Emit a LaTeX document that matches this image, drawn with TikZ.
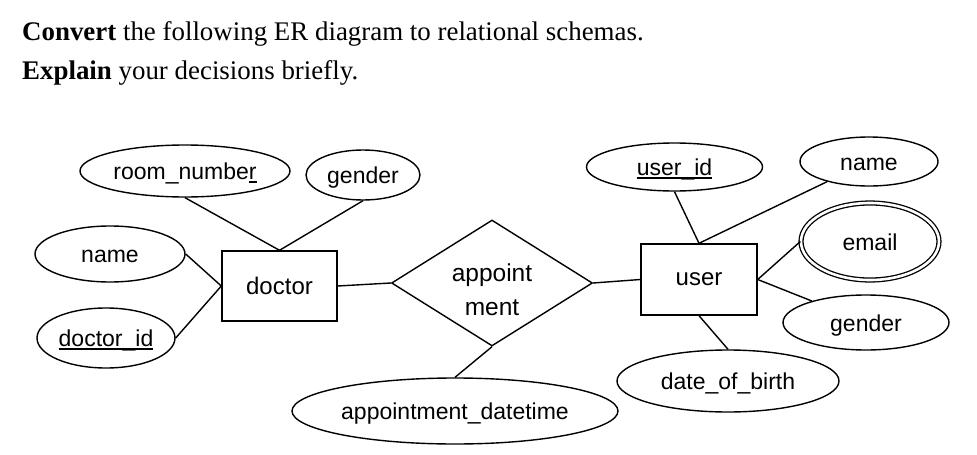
\documentclass[tikz,border=0pt]{standalone}
\usepackage{fontspec}
\setmainfont{Liberation Serif}
\newfontfamily\arialf{Liberation Sans}
\usetikzlibrary{shapes.geometric}
\newcommand\myul[1]{\setbox0\hbox{#1}\rlap{\rule[-3pt]{\wd0}{1.3pt}}\box0}
\tikzset{
  attr/.style={ellipse,draw,line width=1.4pt,inner sep=0pt,text height=19.5pt,text depth=2.5pt,font=\arialf\fontsize{23}{27}\selectfont},
  ent/.style={rectangle,draw,line width=1.4pt,inner sep=0pt,font=\arialf\fontsize{24}{28}\selectfont},
  rel/.style={diamond,draw,line width=1.4pt,inner sep=0pt,align=center,font=\arialf\fontsize{24.5}{34}\selectfont},
  conn/.style={line width=1.4pt},
  multi/.style={attr,double,double distance=2.6pt,line width=1.3pt}
}
\begin{document}
\begin{tikzpicture}[x=1pt,y=-1pt]
\useasboundingbox (0,0) rectangle (977,455);
\fill[white] (0,0) rectangle (977,455);
% title
\node[anchor=base west,inner sep=0pt,font=\fontsize{26.9}{30}\selectfont] (t1) at (22,40.5) {\textbf{Convert} the following ER diagram to relational schemas.};
\node[anchor=base west,inner sep=0pt,font=\fontsize{26.9}{30}\selectfont] (t2) at (22,79) {\textbf{Explain} your decisions briefly.};
% doctor side
\node[ent,minimum width=115pt,minimum height=70pt] (doctor) at (279.5,286) {doctor};
\node[attr,minimum width=210pt,minimum height=52pt] (room) at (185,171) {room\_numbe\myul{r}};
\node[attr,minimum width=114pt,minimum height=50pt] (dgender) at (363,175) {gender};
\node[attr,minimum width=150pt,minimum height=56pt] (dname) at (110,254) {name};
\node[attr,minimum width=138pt,minimum height=60pt] (did) at (106,338) {\myul{doctor\_id}};
% relationship
\node[rel,minimum width=201pt,minimum height=126pt] (appt) at (492,283) {};
\node[inner sep=0pt,align=center,font=\arialf\fontsize{24.5}{34}\selectfont] (apptxt) at (492,290) {appoint\\ment};
\node[attr,minimum width=326pt,minimum height=66pt] (adt) at (455,411) {appointment\_datetime};
% user side
\node[ent,minimum width=116pt,minimum height=71pt] (user) at (699,279.5) {user};
\node[attr,minimum width=176pt,minimum height=48pt] (uid) at (674.5,167) {\myul{user\_id}};
\node[attr,minimum width=138pt,minimum height=49pt] (uname) at (869,161.5) {name};
\node[multi,minimum width=138pt,minimum height=77pt] (email) at (870,241.5) {email};
\node[attr,minimum width=166pt,minimum height=55pt] (ugender) at (866,322.5) {gender};
\node[attr,minimum width=222pt,minimum height=62pt] (dob) at (728,381) {date\_of\_birth};
% connectors
\draw[conn] (room.south) -- (doctor.north);
\draw[conn] (dgender.south) -- (doctor.north);
\draw[conn] (dname.east) -- (doctor.west);
\draw[conn] (did.east) -- (doctor.west);
\draw[conn] (doctor.east) -- (appt.west);
\draw[conn] (appt.south) -- (adt.north);
\draw[conn] (appt.east) -- (user.west);
\draw[conn] (uid.south) -- (user.north);
\draw[conn] (uname) -- (user.north);
\draw[conn] (email.west) -- (user.east);
\draw[conn] (ugender) -- (user.east);
\draw[conn] (dob.north) -- (user.south);
\end{tikzpicture}
\end{document}
